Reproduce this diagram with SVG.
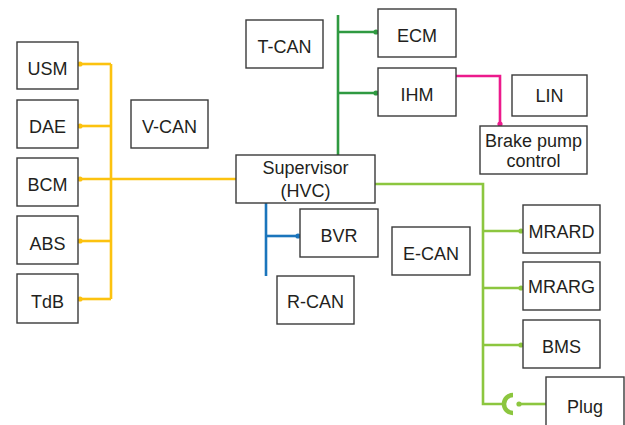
<svg xmlns="http://www.w3.org/2000/svg" width="625" height="425" viewBox="0 0 625 425">
<defs>
<style>
.box{fill:#fff;stroke:#3a3a3a;stroke-width:1.4}
.t{font-family:"Liberation Sans",Arial,sans-serif;font-size:18px;fill:#231f20;text-anchor:middle}
.w{fill:none;stroke-width:2.6;stroke-linejoin:miter;stroke-linecap:butt}
.y{stroke:#fcc20f}
.g{stroke:#2f9a41}
.lg{stroke:#8cc63f}
.b{stroke:#1b75bc}
.m{stroke:#ec1a8c}
</style>
<marker id="dy" viewBox="-3 -3 6 6" markerWidth="6" markerHeight="6" markerUnits="userSpaceOnUse"><circle r="2.6" fill="#fcc20f"/></marker>
<marker id="dg" viewBox="-3 -3 6 6" markerWidth="6" markerHeight="6" markerUnits="userSpaceOnUse"><circle r="2.6" fill="#2f9a41"/></marker>
<marker id="dlg" viewBox="-3 -3 6 6" markerWidth="6" markerHeight="6" markerUnits="userSpaceOnUse"><circle r="2.6" fill="#8cc63f"/></marker>
<marker id="db" viewBox="-3 -3 6 6" markerWidth="6" markerHeight="6" markerUnits="userSpaceOnUse"><circle r="2.6" fill="#1b75bc"/></marker>
<marker id="dm" viewBox="-3 -3 6 6" markerWidth="6" markerHeight="6" markerUnits="userSpaceOnUse"><circle r="2.6" fill="#ec1a8c"/></marker>
</defs>
<rect width="625" height="425" fill="#fff"/>
<g id="connectors">
<path class="w y" d="M111 64 V299"/>
<path class="w y" d="M111 64 H80" marker-end="url(#dy)"/>
<path class="w y" d="M111 126 H80" marker-end="url(#dy)"/>
<path class="w y" d="M236 179 H80" marker-end="url(#dy)"/>
<path class="w y" d="M111 241 H80" marker-end="url(#dy)"/>
<path class="w y" d="M111 299 H80" marker-end="url(#dy)"/>
<path class="w g" d="M338 15 V155"/>
<path class="w g" d="M338 32 H376" marker-end="url(#dg)"/>
<path class="w g" d="M338 93 H376" marker-end="url(#dg)"/>
<path class="w m" d="M456 76 H500 V124" marker-end="url(#dm)"/>
<path class="w b" d="M266 203 V276"/>
<path class="w b" d="M266 236 H298" marker-end="url(#db)"/>
<path class="w lg" d="M375 184 H483 V404 H506"/>
<path class="w lg" d="M483 231 H521" marker-end="url(#dlg)"/>
<path class="w lg" d="M483 288 H521" marker-end="url(#dlg)"/>
<path class="w lg" d="M483 345 H521" marker-end="url(#dlg)"/>
<path d="M513 395 A9 9 0 0 0 513 413" fill="none" stroke="#8cc63f" stroke-width="4.5"/>
<path class="w lg" d="M546 404 H519" marker-end="url(#dlg)"/>
</g>
<g id="USM"><rect class="box" x="17" y="42" width="61" height="47"/><text class="t" x="47.5" y="74.5">USM</text></g>
<g id="DAE"><rect class="box" x="17" y="100" width="61" height="48"/><text class="t" x="47.5" y="132.5">DAE</text></g>
<g id="BCM"><rect class="box" x="17" y="158" width="61" height="48"/><text class="t" x="47.5" y="190.5">BCM</text></g>
<g id="ABS"><rect class="box" x="17" y="216" width="61" height="48"/><text class="t" x="47.5" y="249.5">ABS</text></g>
<g id="TdB"><rect class="box" x="17" y="274" width="61" height="49"/><text class="t" x="47.5" y="308">TdB</text></g>
<g id="V-CAN"><rect class="box" x="131" y="100" width="77" height="48"/><text class="t" x="169.5" y="132.5">V-CAN</text></g>
<g id="T-CAN"><rect class="box" x="246" y="20" width="77" height="48"/><text class="t" x="284.5" y="53">T-CAN</text></g>
<g id="ECM"><rect class="box" x="378" y="9" width="78" height="48"/><text class="t" x="417" y="42">ECM</text></g>
<g id="IHM"><rect class="box" x="378" y="68" width="78" height="48"/><text class="t" x="417" y="101">IHM</text></g>
<g id="LIN"><rect class="box" x="512" y="75" width="75" height="41"/><text class="t" x="549.5" y="101.5">LIN</text></g>
<g id="BrakePump"><rect class="box" x="480" y="126" width="107" height="48"/><text class="t" x="533.5" y="146.5">Brake pump</text><text class="t" x="533.5" y="167">control</text></g>
<g id="Supervisor"><rect class="box" x="236" y="155" width="139" height="48"/><text class="t" x="305.5" y="174">Supervisor</text><text class="t" x="305.5" y="196.5">(HVC)</text></g>
<g id="BVR"><rect class="box" x="300" y="209" width="78" height="48"/><text class="t" x="339" y="242">BVR</text></g>
<g id="R-CAN"><rect class="box" x="277" y="276" width="77" height="48"/><text class="t" x="315.5" y="308">R-CAN</text></g>
<g id="E-CAN"><rect class="box" x="392" y="227" width="78" height="48"/><text class="t" x="431" y="260">E-CAN</text></g>
<g id="MRARD"><rect class="box" x="523" y="205" width="77" height="48"/><text class="t" x="561.5" y="238">MRARD</text></g>
<g id="MRARG"><rect class="box" x="523" y="262" width="77" height="48"/><text class="t" x="561.5" y="293">MRARG</text></g>
<g id="BMS"><rect class="box" x="523" y="320" width="77" height="48"/><text class="t" x="561.5" y="352.5">BMS</text></g>
<g id="Plug"><rect class="box" x="546" y="377" width="78" height="60"/><text class="t" x="585" y="413">Plug</text></g>
</svg>
